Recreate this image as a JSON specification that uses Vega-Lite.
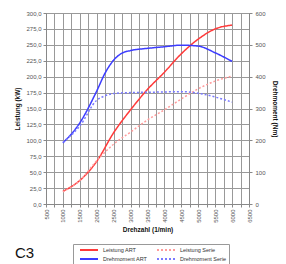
{
  "$schema": "https://vega.github.io/schema/vega-lite/v6.json",
  "autosize": "none",
  "width": 203,
  "height": 191,
  "padding": {"left": 46, "top": 13, "right": 37, "bottom": 60},
  "background": "white",
  "title": {"text": "C3", "orient": "bottom", "anchor": "start", "frame": "bounds", "dx": 0, "dy": -20, "offset": 0, "fontSize": 15, "fontWeight": "normal", "font": "Liberation Sans", "color": "#111"},
  "config": {
    "font": "Liberation Sans",
    "view": {"stroke": "#999", "strokeWidth": 1},
    "axis": {"labelFontSize": 6, "labelColor": "#555", "titleFontSize": 6.5, "titleFontWeight": "bold", "titleColor": "#111", "gridColor": "#999", "gridOpacity": 1, "gridWidth": 1, "domainColor": "#888", "tickColor": "#888", "tickSize": 3}
  },
  "datasets": {
    "leistung": [
      {"rpm": 1000, "series": "Leistung ART", "value": 20},
      {"rpm": 1500, "series": "Leistung ART", "value": 37},
      {"rpm": 2000, "series": "Leistung ART", "value": 67},
      {"rpm": 2500, "series": "Leistung ART", "value": 112},
      {"rpm": 3000, "series": "Leistung ART", "value": 148},
      {"rpm": 3500, "series": "Leistung ART", "value": 180},
      {"rpm": 4000, "series": "Leistung ART", "value": 207},
      {"rpm": 4500, "series": "Leistung ART", "value": 236},
      {"rpm": 5000, "series": "Leistung ART", "value": 259},
      {"rpm": 5500, "series": "Leistung ART", "value": 275},
      {"rpm": 6000, "series": "Leistung ART", "value": 281},
      {"rpm": 1000, "series": "Leistung Serie", "value": 19},
      {"rpm": 1500, "series": "Leistung Serie", "value": 37},
      {"rpm": 2000, "series": "Leistung Serie", "value": 68},
      {"rpm": 2500, "series": "Leistung Serie", "value": 94},
      {"rpm": 3000, "series": "Leistung Serie", "value": 113},
      {"rpm": 3500, "series": "Leistung Serie", "value": 132},
      {"rpm": 4000, "series": "Leistung Serie", "value": 148},
      {"rpm": 4500, "series": "Leistung Serie", "value": 165},
      {"rpm": 5000, "series": "Leistung Serie", "value": 181},
      {"rpm": 5500, "series": "Leistung Serie", "value": 193},
      {"rpm": 6000, "series": "Leistung Serie", "value": 201}
    ],
    "drehmoment": [
      {"rpm": 1000, "series": "Drehmoment ART", "value": 192},
      {"rpm": 1500, "series": "Drehmoment ART", "value": 255},
      {"rpm": 2000, "series": "Drehmoment ART", "value": 355},
      {"rpm": 2250, "series": "Drehmoment ART", "value": 412},
      {"rpm": 2500, "series": "Drehmoment ART", "value": 452},
      {"rpm": 2750, "series": "Drehmoment ART", "value": 474},
      {"rpm": 3000, "series": "Drehmoment ART", "value": 482},
      {"rpm": 3500, "series": "Drehmoment ART", "value": 489},
      {"rpm": 4000, "series": "Drehmoment ART", "value": 494},
      {"rpm": 4500, "series": "Drehmoment ART", "value": 499},
      {"rpm": 5000, "series": "Drehmoment ART", "value": 496},
      {"rpm": 5500, "series": "Drehmoment ART", "value": 475},
      {"rpm": 6000, "series": "Drehmoment ART", "value": 448},
      {"rpm": 1000, "series": "Drehmoment Serie", "value": 194},
      {"rpm": 1500, "series": "Drehmoment Serie", "value": 245},
      {"rpm": 2000, "series": "Drehmoment Serie", "value": 326},
      {"rpm": 2250, "series": "Drehmoment Serie", "value": 340},
      {"rpm": 2500, "series": "Drehmoment Serie", "value": 347},
      {"rpm": 3000, "series": "Drehmoment Serie", "value": 350},
      {"rpm": 3500, "series": "Drehmoment Serie", "value": 351},
      {"rpm": 4000, "series": "Drehmoment Serie", "value": 352},
      {"rpm": 4500, "series": "Drehmoment Serie", "value": 353},
      {"rpm": 5000, "series": "Drehmoment Serie", "value": 348},
      {"rpm": 5500, "series": "Drehmoment Serie", "value": 336},
      {"rpm": 6000, "series": "Drehmoment Serie", "value": 320}
    ]
  },
  "encoding": {
    "x": {"field": "rpm", "type": "quantitative", "scale": {"domain": [500, 6500], "nice": false},
      "axis": {"title": "Drehzahl (1/min)", "values": [500,750,1000,1250,1500,1750,2000,2250,2500,2750,3000,3250,3500,3750,4000,4250,4500,4750,5000,5250,5500,5750,6000,6250,6500],
        "labelExpr": "datum.value % 500 == 0 ? datum.value : ''", "labelAngle": -90, "labelAlign": "right", "labelBaseline": "middle", "labelPadding": 2, "titlePadding": 4}},
    "color": {"field": "series", "type": "nominal",
      "scale": {"domain": ["Leistung ART", "Leistung Serie", "Drehmoment ART", "Drehmoment Serie"], "range": ["#ff3a3a", "#ff9c9c", "#3c3cff", "#7a7aff"]},
      "legend": {"title": null, "orient": "none", "legendX": 27, "legendY": 231, "columns": 2, "direction": "horizontal", "strokeColor": "#999", "padding": 2, "labelFontSize": 5.5, "labelColor": "#333", "symbolType": "M-3,0H3", "symbolSize": 36, "symbolStrokeWidth": 2, "symbolOffset": 10, "labelOffset": 10, "columnPadding": 4, "rowPadding": 1}},
    "strokeDash": {"field": "series", "type": "nominal",
      "scale": {"domain": ["Leistung ART", "Leistung Serie", "Drehmoment ART", "Drehmoment Serie"], "range": [[1,0],[2,2],[1,0],[2,2]]}, "legend": null}
  },
  "layer": [
    {
      "data": {"name": "leistung"},
      "mark": {"type": "line", "interpolate": "monotone", "strokeWidth": 1.5},
      "encoding": {
        "y": {"field": "value", "type": "quantitative", "scale": {"domain": [0, 300], "nice": false},
          "axis": {"title": "Leistung (kW)", "values": [0,25,50,75,100,125,150,175,200,225,250,275,300], "labelExpr": "replace(format(datum.value, '.1f'), '.', ',')", "titlePadding": 5, "labelPadding": 2}}
      }
    },
    {
      "data": {"name": "drehmoment"},
      "mark": {"type": "line", "interpolate": "monotone", "strokeWidth": 1.5},
      "encoding": {
        "y": {"field": "value", "type": "quantitative", "scale": {"domain": [0, 600], "nice": false},
          "axis": {"title": "Drehmoment (Nm)", "orient": "right", "values": [0,100,200,300,400,500,600], "grid": false, "titlePadding": 6, "labelPadding": 3}}
      }
    }
  ],
  "resolve": {"scale": {"y": "independent"}}
}
